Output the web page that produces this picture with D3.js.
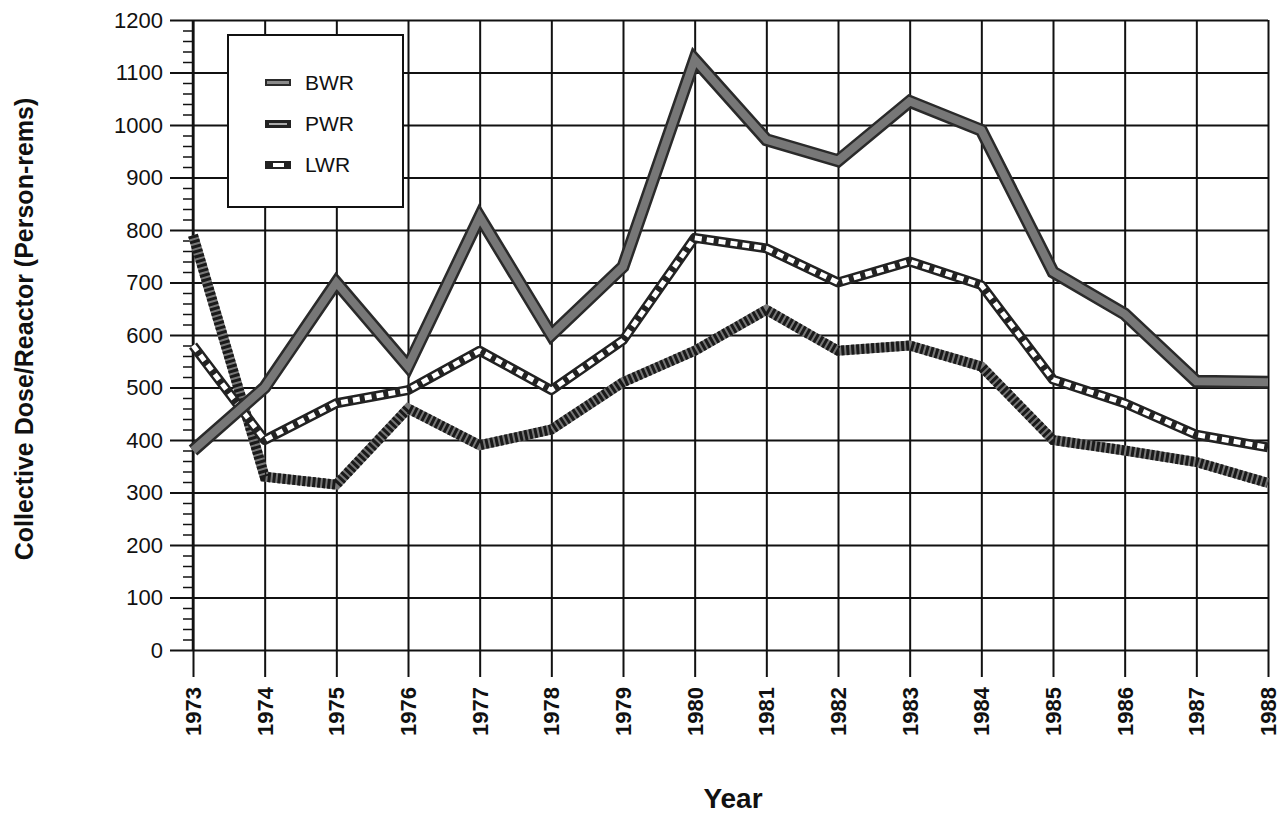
<!DOCTYPE html>
<html>
<head>
<meta charset="utf-8">
<script src="https://cdn.jsdelivr.net/npm/d3@7"></script>
<style>
  body { margin: 0; background: #fff; }
  text { font-family: "Liberation Sans", Arial, sans-serif; fill: #111; }
</style>
</head>
<body>
<div id="canvas"></div>
<script>
// data
var years = [1973, 1974, 1975, 1976, 1977, 1978, 1979, 1980, 1981, 1982, 1983, 1984, 1985, 1986, 1987, 1988];
var bwr = [380, 500, 700, 540, 825, 600, 730, 1125, 972, 932, 1045, 990, 720, 640, 512, 510];
var pwr = [790, 330, 315, 460, 390, 420, 510, 570, 648, 570, 580, 540, 400, 380, 358, 318];
var lwr = [580, 400, 470, 495, 570, 495, 590, 785, 765, 700, 740, 695, 515, 470, 410, 386];
var yTicks = [0, 100, 200, 300, 400, 500, 600, 700, 800, 900, 1000, 1100, 1200];
var seriesNames = ["BWR", "PWR", "LWR"];

var W = 1287, H = 817;
var margin = {top: 20, right: 19, bottom: 167, left: 193};
var width = W - margin.left - margin.right,
    height = H - margin.top - margin.bottom;

var svg = d3.select("#canvas").append("svg")
  .attr("width", W)
  .attr("height", H);

var g = svg.append("g")
  .attr("transform", "translate(" + margin.left + "," + margin.top + ")");

var x = d3.scaleLinear().domain([1973, 1988]).range([0, width]);
var y = d3.scaleLinear().domain([0, 1200]).range([height, 0]);

// horizontal grid + major ticks going out to the left
g.append("g")
  .call(d3.axisLeft(y).tickValues(yTicks).tickSize(-width - 23).tickPadding(8).tickFormat(d3.format("d")))
  .attr("transform", "translate(-23,0)")
  .call(function(a) {
    a.select(".domain").remove();
    a.selectAll("line").attr("stroke", "#111").attr("stroke-width", 2)
      .attr("x2", width + 23);
    a.selectAll("text").attr("font-size", 22).attr("x", -7)
      .attr("font-family", "Liberation Sans, Arial, sans-serif").attr("fill", "#111");
  });

// minor ticks on left axis every 20
g.append("g")
  .call(d3.axisLeft(y).tickValues(d3.range(0, 1201, 20).filter(function(v) { return v % 100; })).tickSize(10).tickFormat(""))
  .call(function(a) {
    a.select(".domain").remove();
    a.selectAll("line").attr("stroke", "#111").attr("stroke-width", 1.5);
  });

// vertical grid, extended below plot as ticks
g.append("g")
  .attr("transform", "translate(0," + (height + 27) + ")")
  .call(d3.axisBottom(x).tickValues(years).tickSize(-height - 27).tickFormat(""))
  .call(function(a) {
    a.select(".domain").remove();
    a.selectAll("line").attr("stroke", "#111").attr("stroke-width", 2);
  });

// rotated year labels
g.selectAll(".year-label")
  .data(years)
  .enter().append("text")
    .attr("class", "year-label")
    .attr("transform", function(d) { return "translate(" + (x(d) + 8) + "," + (height + 37) + ") rotate(-90)"; })
    .attr("text-anchor", "end")
    .attr("font-size", 22)
    .attr("font-weight", "bold")
    .text(function(d) { return d; });

// left axis line
g.append("line")
  .attr("x1", 0).attr("x2", 0).attr("y1", 0).attr("y2", height)
  .attr("stroke", "#111").attr("stroke-width", 2.5);

var line = d3.line()
  .x(function(d, i) { return x(years[i]); })
  .y(function(d) { return y(d); });

// PWR : dark hatched band
g.append("path").datum(pwr)
  .attr("d", line).attr("fill", "none")
  .attr("stroke", "#777").attr("stroke-width", 10).attr("stroke-linejoin", "miter");
g.append("path").datum(pwr)
  .attr("d", line).attr("fill", "none")
  .attr("stroke", "#1a1a1a").attr("stroke-width", 10).attr("stroke-dasharray", "3,2")
  .attr("stroke-linejoin", "miter");

// LWR : chain of hollow boxes
g.append("path").datum(lwr)
  .attr("d", line).attr("fill", "none")
  .attr("stroke", "#222").attr("stroke-width", 10).attr("stroke-linejoin", "round");
g.append("path").datum(lwr)
  .attr("d", line).attr("fill", "none")
  .attr("stroke", "#fff").attr("stroke-width", 5).attr("stroke-dasharray", "7,5")
  .attr("stroke-linejoin", "round");

// BWR : thick grey band with dark edges
g.append("path").datum(bwr)
  .attr("d", line).attr("fill", "none")
  .attr("stroke", "#2a2a2a").attr("stroke-width", 13).attr("stroke-linejoin", "miter");
g.append("path").datum(bwr)
  .attr("d", line).attr("fill", "none")
  .attr("stroke", "#777").attr("stroke-width", 8).attr("stroke-linejoin", "miter");

// legend
var legend = svg.append("g").attr("transform", "translate(228,35)");
legend.append("rect")
  .attr("width", 175).attr("height", 172)
  .attr("fill", "#fff").attr("stroke", "#111").attr("stroke-width", 2);

var swatch = [
  function(s) {
    s.append("rect").attr("x", 37).attr("y", -4).attr("width", 26).attr("height", 7).attr("fill", "#2a2a2a");
    s.append("rect").attr("x", 39).attr("y", -2).attr("width", 22).attr("height", 3).attr("fill", "#8a8a8a");
  },
  function(s) {
    s.append("rect").attr("x", 37).attr("y", -4).attr("width", 26).attr("height", 8).attr("fill", "#222");
    s.append("rect").attr("x", 41).attr("y", -1).attr("width", 18).attr("height", 2).attr("fill", "#aaa");
  },
  function(s) {
    s.append("rect").attr("x", 37).attr("y", -4).attr("width", 26).attr("height", 8).attr("fill", "#222");
    s.append("rect").attr("x", 45).attr("y", -2).attr("width", 11).attr("height", 4).attr("fill", "#fff");
  }
];

seriesNames.forEach(function(name, i) {
  var row = legend.append("g").attr("transform", "translate(0," + (48 + i * 41) + ")");
  swatch[i](row);
  row.append("text").attr("x", 77).attr("y", 7).attr("font-size", 21).text(name);
});

// axis titles
svg.append("text")
  .attr("transform", "translate(33,329) rotate(-90)")
  .attr("text-anchor", "middle")
  .attr("font-size", 25).attr("font-weight", "bold")
  .text("Collective Dose/Reactor (Person-rems)");

svg.append("text")
  .attr("x", 733).attr("y", 808)
  .attr("text-anchor", "middle")
  .attr("font-size", 28).attr("font-weight", "bold")
  .text("Year");
</script>
</body>
</html>
